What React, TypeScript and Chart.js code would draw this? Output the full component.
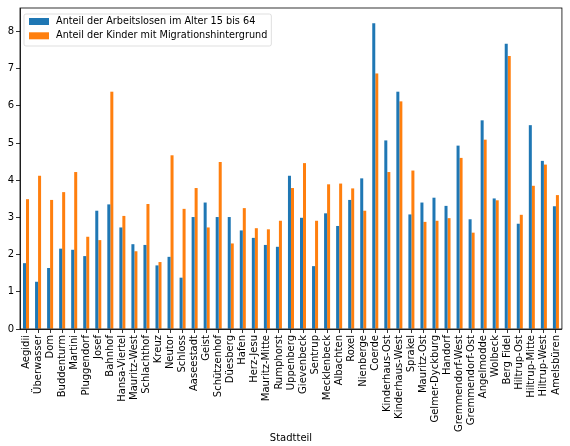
import { useEffect, useRef } from "react";
import { Chart, registerables } from "chart.js";

Chart.register(...registerables);

const categories = [
  "Aegidii", "Überwasser", "Dom", "Buddenturm", "Martini", "Pluggendorf", "Josef", "Bahnhof",
  "Hansa-Viertel", "Mauritz-West", "Schlachthof", "Kreuz", "Neutor", "Schloss", "Aaseestadt",
  "Geist", "Schützenhof", "Düesberg", "Hafen", "Herz-Jesu", "Mauritz-Mitte", "Rumphorst",
  "Uppenberg", "Gievenbeck", "Sentrup", "Mecklenbeck", "Albachten", "Roxel", "Nienberge",
  "Coerde", "Kinderhaus-Ost", "Kinderhaus-West", "Sprakel", "Mauritz-Ost", "Gelmer-Dyckburg",
  "Handorf", "Gremmendorf-West", "Gremmendorf-Ost", "Angelmodde", "Wolbeck", "Berg Fidel",
  "Hiltrup-Ost", "Hiltrup-Mitte", "Hiltrup-West", "Amelsbüren",
];

const unemployed = [
  1.77, 1.27, 1.64, 2.16, 2.13, 1.96, 3.18, 3.35, 2.73, 2.28, 2.26, 1.71, 1.94, 1.38, 3.01,
  3.40, 3.01, 3.01, 2.65, 2.45, 2.26, 2.21, 4.12, 2.99, 1.69, 3.11, 2.77, 3.47, 4.05,
  8.22, 5.07, 6.38, 3.08, 3.40, 3.53, 3.31, 4.93, 2.95, 5.61, 3.51, 7.67, 2.83, 5.48, 4.52, 3.30,
];

const migration = [
  3.49, 4.12, 3.47, 3.68, 4.22, 2.48, 2.39, 6.38, 3.04, 2.09, 3.36, 1.80, 4.67, 3.23, 3.79,
  2.73, 4.49, 2.30, 3.25, 2.71, 2.68, 2.91, 3.79, 4.46, 2.91, 3.89, 3.91, 3.78, 3.18,
  6.87, 4.22, 6.12, 4.26, 2.88, 2.91, 2.98, 4.60, 2.59, 5.09, 3.46, 7.34, 3.07, 3.85, 4.42, 3.60,
];

const seriesLabels = [
  "Anteil der Arbeitslosen im Alter 15 bis 64",
  "Anteil der Kinder mit Migrationshintergrund",
];

const yTicks = [0, 1, 2, 3, 4, 5, 6, 7, 8];
const xTitle = "Stadtteil";

const BLUE = "#1f77b4";
const ORANGE = "#ff7f0e";
const FONT = "'DejaVu Sans', sans-serif";

const framePlugin = {
  id: "frameAndLegend",
  afterDraw(chart: any) {
    const { ctx, chartArea } = chart;
    ctx.save();
    ctx.strokeStyle = "#000";
    ctx.lineWidth = 0.8;
    ctx.strokeRect(chartArea.left, chartArea.top, chartArea.right - chartArea.left, chartArea.bottom - chartArea.top);

    // legend
    ctx.font = `9.7px ${FONT}`;
    const colors = [BLUE, ORANGE];
    const x0 = chartArea.left + 4;
    const y0 = chartArea.top + 6;
    const textW = Math.max(...seriesLabels.map((s) => ctx.measureText(s).width));
    const w = 32 + textW + 4;
    const h = 32;
    ctx.globalAlpha = 0.8;
    ctx.fillStyle = "#fff";
    ctx.beginPath();
    (ctx as any).roundRect(x0, y0, w, h, 2);
    ctx.fill();
    ctx.strokeStyle = "#cccccc";
    ctx.lineWidth = 0.8;
    ctx.stroke();
    ctx.globalAlpha = 1;
    seriesLabels.forEach((lab, i) => {
      const cy = y0 + 7.5 + i * 14.3;
      ctx.fillStyle = colors[i];
      ctx.fillRect(x0 + 5, cy - 3.5, 20, 7);
      ctx.fillStyle = "#000";
      ctx.textBaseline = "middle";
      ctx.textAlign = "left";
      ctx.fillText(lab, x0 + 32, cy);
    });
    ctx.restore();
  },
};

export default function App() {
  const ref = useRef<HTMLCanvasElement>(null);
  useEffect(() => {
    document.body.style.margin = "0";
    const chart = new Chart(ref.current as HTMLCanvasElement, {
      type: "bar",
      data: {
        labels: categories,
        datasets: [
          { label: seriesLabels[0], data: unemployed, backgroundColor: BLUE },
          { label: seriesLabels[1], data: migration, backgroundColor: ORANGE },
        ],
      },
      options: {
        responsive: false,
        animation: false,
        layout: { padding: { left: 0, right: 8, top: 6, bottom: 0 } },
        datasets: { bar: { categoryPercentage: 0.5, barPercentage: 1.0 } },
        plugins: { legend: { display: false }, tooltip: { enabled: false } },
        scales: {
          x: {
            grid: { display: true, offset: false, drawOnChartArea: false, drawTicks: true, tickLength: 4, color: "#000", lineWidth: 0.8 },
            border: { display: true, color: "#000", width: 0.8 },
            ticks: { minRotation: 90, maxRotation: 90, autoSkip: false, padding: 2, color: "#000", font: { family: FONT, size: 10 } },
            title: { display: true, text: xTitle, color: "#000", font: { family: FONT, size: 10 }, padding: { top: 4, bottom: 2 } },
            afterFit: (s: any) => { s.height = 117; },
          },
          y: {
            min: 0,
            max: 8.63,
            afterBuildTicks: (s: any) => { s.ticks = yTicks.map((v) => ({ value: v })); },
            grid: { display: true, drawOnChartArea: false, drawTicks: true, tickLength: 4, color: "#000", lineWidth: 0.8 },
            border: { display: true, color: "#000", width: 0.8 },
            ticks: { padding: 2, color: "#000", font: { family: FONT, size: 10 }, callback: (v: any) => String(v) },
            afterFit: (s: any) => { s.width = 20; },
          },
        },
      },
      plugins: [framePlugin],
    });
    return () => chart.destroy();
  }, []);
  return (
    <div style={{ position: "absolute", left: 0, top: 0, width: 570, height: 446 }}>
      <canvas ref={ref} width={570} height={446} style={{ width: 570, height: 446 }} />
    </div>
  );
}
